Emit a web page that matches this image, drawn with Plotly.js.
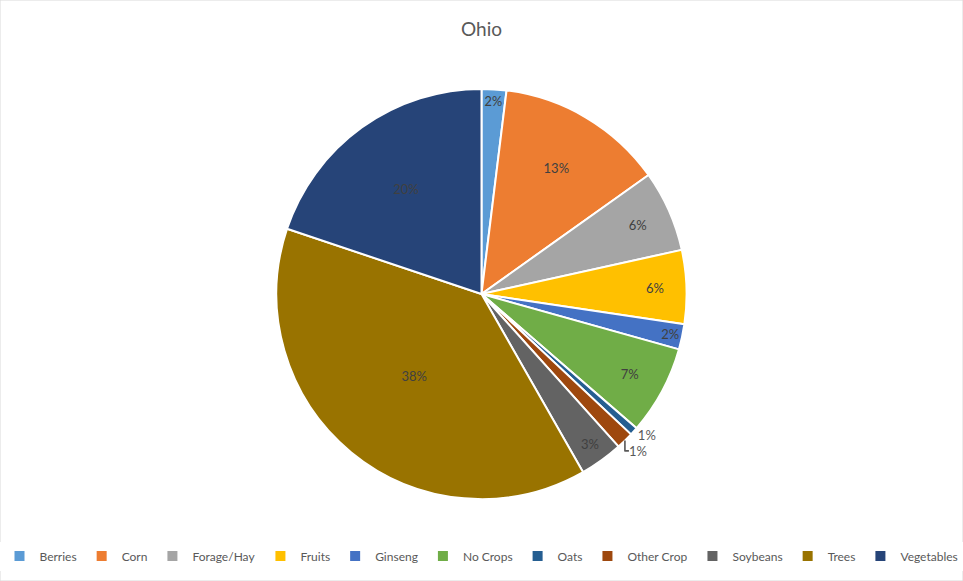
<!DOCTYPE html>
<html>
<head>
<meta charset="utf-8">
<script src="https://cdn.plot.ly/plotly-3.0.1.min.js"></script>
<style>html,body{margin:0;padding:0;background:#fff;}#chart{width:963px;height:581px;}</style>
</head>
<body>
<div id="chart"></div>
<script>
const categories = ["Berries","Corn","Forage/Hay","Fruits","Ginseng","No Crops","Oats","Other Crop","Soybeans","Trees","Vegetables"];
const shares = [1.95, 13.2, 6.4, 5.8, 2.0, 7.0, 0.65, 1.35, 3.4, 38.4, 19.85];
const colors = ["#5B9BD5","#ED7D31","#A5A5A5","#FFC000","#4472C4","#70AD47","#255E91","#9E480E","#636363","#997300","#264478"];
const labelPositions = ["inside","inside","inside","inside","inside","inside","outside","outside","inside","inside","inside"];
const chartTitle = "Ohio";

const fam = "Lato, 'Liberation Sans', sans-serif";
const trace = {
  type: "pie",
  labels: categories,
  values: shares,
  sort: false,
  direction: "clockwise",
  rotation: 0,
  marker: {colors: colors, line: {color: "#ffffff", width: 2}},
  texttemplate: "%{percent:.0%}",
  textposition: labelPositions,
  insidetextorientation: "horizontal",
  textfont: {family: fam, size: 13, color: "#404040"},
  insidetextfont: {family: fam, size: 13, color: "#404040"},
  outsidetextfont: {family: fam, size: 13, color: "#595959"},
  hoverinfo: "label+percent",
  domain: {x: [0.2, 0.8], y: [0.141, 0.847]}
};

const layout = {
  width: 963,
  height: 581,
  margin: {l: 0, r: 0, t: 0, b: 0},
  paper_bgcolor: "#ffffff",
  font: {family: fam, color: "#595959"},
  title: {text: chartTitle, x: 0.5, xanchor: "center", y: 0.95, yanchor: "middle", font: {size: 19, color: "#595959"}},
  showlegend: true,
  legend: {orientation: "h", x: 0.5, xanchor: "center", y: 0.043, yanchor: "middle", itemwidth: 30, tracegroupgap: 0,
           font: {size: 12, color: "#595959"}, traceorder: "normal"},
  shapes: [{type: "rect", xref: "paper", yref: "paper", x0: 0, x1: 1, y0: 0, y1: 1, line: {color: "#d9d9d9", width: 1}}]
};

Plotly.newPlot("chart", [trace], layout, {displayModeBar: false, staticPlot: true});
</script>
</body>
</html>
